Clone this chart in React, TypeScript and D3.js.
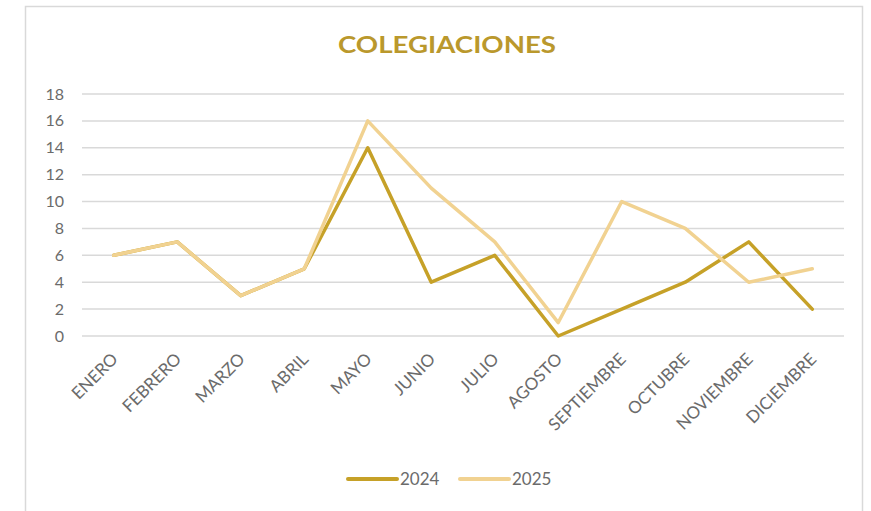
import React from "react";
import * as d3 from "d3";

const months = ["ENERO","FEBRERO","MARZO","ABRIL","MAYO","JUNIO","JULIO","AGOSTO","SEPTIEMBRE","OCTUBRE","NOVIEMBRE","DICIEMBRE"];
const values2024 = [6, 7, 3, 5, 14, 4, 6, 0, 2, 4, 7, 2];
const values2025 = [6, 7, 3, 5, 16, 11, 7, 1, 10, 8, 4, 5];
const yTicks = [0, 2, 4, 6, 8, 10, 12, 14, 16, 18];
const seriesNames = ["2024", "2025"];

const W = 871, H = 511;
const COLOR_2024 = "#C6A128";
const COLOR_2025 = "#F1D291";
const FONT = "Lato, 'Open Sans', sans-serif";

export default function App() {
  const x = d3.scaleBand<string>().domain(months).range([82, 844]);
  const y = d3.scaleLinear().domain([0, 18]).range([336, 94]);
  const line = d3.line<number>()
    .x((_, i) => (x(months[i]) as number) + x.bandwidth() / 2)
    .y((d) => y(d));

  const series = [
    { name: seriesNames[0], values: values2024, color: COLOR_2024 },
    { name: seriesNames[1], values: values2025, color: COLOR_2025 },
  ];

  return (
    <svg width={W} height={H} style={{ position: "absolute", left: 0, top: 0, background: "#fff" }}>
      <rect x={25.5} y={6.5} width={837} height={510} fill="#fff" stroke="#d9d9d9" strokeWidth={1.5} />
      <text x={447} y={53} textAnchor="middle" fontFamily={FONT} fontWeight={700} fontSize={22}
        fill="#BA982C" textLength={218} lengthAdjust="spacingAndGlyphs">COLEGIACIONES</text>

      {yTicks.map((t) => (
        <g key={t}>
          <line x1={82} x2={844} y1={y(t)} y2={y(t)} stroke="#d9d9d9" strokeWidth={1.5} />
          <text x={64} y={y(t)} dy="0.35em" textAnchor="end" fontFamily={FONT} fontSize={16} fill="#6b6b6b">{t}</text>
        </g>
      ))}

      {months.map((m) => {
        const cx = (x(m) as number) + x.bandwidth() / 2;
        return (
          <text key={m} transform={`translate(${cx + 1},${356}) rotate(-45)`} textAnchor="end"
            dy="0.35em" fontFamily={FONT} fontSize={17} fill="#6b6b6b">{m}</text>
        );
      })}

      {series.map((s) => (
        <path key={s.name} d={line(s.values) as string} fill="none" stroke={s.color}
          strokeWidth={3.5} strokeLinejoin="round" strokeLinecap="round" />
      ))}

      {series.map((s, i) => {
        const lx = 348 + i * 112;
        return (
          <g key={s.name}>
            <line x1={lx} x2={lx + 49} y1={479} y2={479} stroke={s.color} strokeWidth={4} strokeLinecap="round" />
            <text x={lx + 52} y={479} dy="0.35em" fontFamily={FONT} fontSize={17} fill="#6b6b6b">{s.name}</text>
          </g>
        );
      })}
    </svg>
  );
}
